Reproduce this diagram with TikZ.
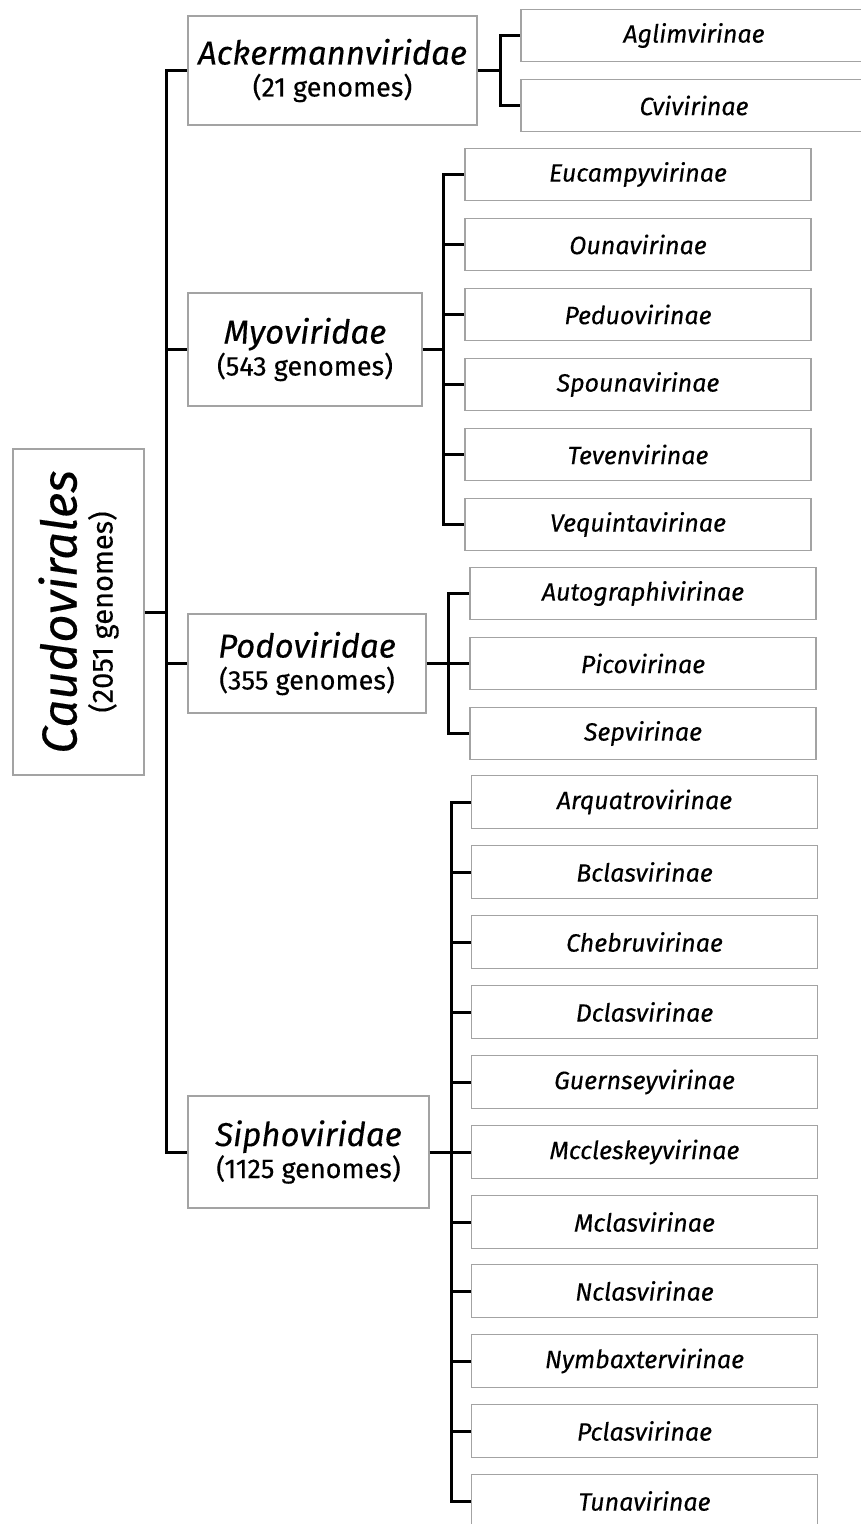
\documentclass[tikz,border=0pt]{standalone}
\usepackage{fontspec}
\setmainfont{Fira Sans}[FakeBold=0.3]
\begin{document}
\begin{tikzpicture}[x=1pt,y=-1pt,
  box/.style={draw=boxgray, line width=1.4pt, fill=white, inner sep=0pt, align=center},
  fam/.style={box, font=\fontsize{27}{32}\selectfont},
  sub/.style={box, minimum width=346pt, minimum height=52.5pt, font=\fontsize{25}{30}\selectfont\itshape},
  conn/.style={draw=black, line width=3pt}]
\definecolor{boxgray}{HTML}{A3A3A3}
\useasboundingbox (0,0) rectangle (861,1524);
\newcommand{\famtext}[2]{{\fontsize{33}{32}\selectfont\itshape #1}\\#2}
% root
\node[box, rotate=90, minimum width=326pt, minimum height=131pt, font=\fontsize{29}{36}\selectfont] (root) at (78.5,612)
  {{\fontsize{49}{36}\selectfont\itshape Caudovirales}\\(2051 genomes)};
% families
\node[fam, minimum width=289pt, minimum height=109pt] (ack) at (332.5,70.5) {\famtext{Ackermannviridae}{(21 genomes)}};
\node[fam, minimum width=234pt, minimum height=113pt] (myo) at (305,349.5) {\famtext{Myoviridae}{(543 genomes)}};
\node[fam, minimum width=238pt, minimum height=99pt] (podo) at (307,663.5) {\famtext{Podoviridae}{(355 genomes)}};
\node[fam, minimum width=241pt, minimum height=112pt] (sipho) at (308.5,1152) {\famtext{Siphoviridae}{(1125 genomes)}};
% Ackermannviridae subfamilies
\node[sub] (agl) at (694,35.5) {Aglimvirinae};
\node[sub] (cvi) at (694,105.5) {Cvivirinae};
% Myoviridae subfamilies
\node[sub] (euc) at (638,174.5) {Eucampyvirinae};
\node[sub] (oun) at (638,244.5) {Ounavirinae};
\node[sub] (ped) at (638,314.5) {Peduovirinae};
\node[sub] (spo) at (638,384.5) {Spounavirinae};
\node[sub] (tev) at (638,454.5) {Tevenvirinae};
\node[sub] (veq) at (638,524.5) {Vequintavirinae};
% Podoviridae subfamilies
\node[sub] (aut) at (643,593.5) {Autographivirinae};
\node[sub] (pic) at (643,663.5) {Picovirinae};
\node[sub] (sep) at (643,733.5) {Sepvirinae};
% Siphoviridae subfamilies
\node[sub] (arq) at (644.5,802) {Arquatrovirinae};
\node[sub] (bcl) at (644.5,872) {Bclasvirinae};
\node[sub] (che) at (644.5,942) {Chebruvirinae};
\node[sub] (dcl) at (644.5,1012) {Dclasvirinae};
\node[sub] (gue) at (644.5,1082) {Guernseyvirinae};
\node[sub] (mcc) at (644.5,1152) {Mccleskeyvirinae};
\node[sub] (mcl) at (644.5,1222) {Mclasvirinae};
\node[sub] (ncl) at (644.5,1291) {Nclasvirinae};
\node[sub] (nym) at (644.5,1361) {Nymbaxtervirinae};
\node[sub] (pcl) at (644.5,1431) {Pclasvirinae};
\node[sub] (tun) at (644.5,1501) {Tunavirinae};
% connectors
\draw[conn] (root.south) -- (166,612) coordinate (rb);
\foreach \c in {ack,myo,podo,sipho} \draw[conn] (rb) |- (\c.west);
\draw[conn] (ack.east) -- (500,70.5) coordinate (ab);
\foreach \c in {agl,cvi} \draw[conn] (ab) |- (\c.west);
\draw[conn] (myo.east) -- (443.5,349.5) coordinate (mb);
\foreach \c in {euc,oun,ped,spo,tev,veq} \draw[conn] (mb) |- (\c.west);
\draw[conn] (podo.east) -- (448.5,663.5) coordinate (pb);
\foreach \c in {aut,pic,sep} \draw[conn] (pb) |- (\c.west);
\draw[conn] (sipho.east) -- (451,1152) coordinate (sb);
\foreach \c in {arq,bcl,che,dcl,gue,mcc,mcl,ncl,nym,pcl,tun} \draw[conn] (sb) |- (\c.west);
\end{tikzpicture}
\end{document}
